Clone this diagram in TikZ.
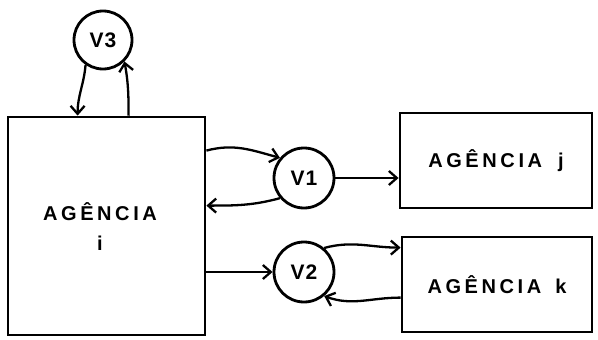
\documentclass[tikz,border=0pt]{standalone}
\usepackage{fontspec}
\newfontfamily\lett{Liberation Sans Bold}[LetterSpace=18]
\newfontfamily\lettv{Liberation Sans Bold}[LetterSpace=4]
\usetikzlibrary{arrows.meta}
\begin{document}
\begin{tikzpicture}[x=1pt,y=1pt,
  box/.style={draw,line width=2.8pt,inner sep=0pt,font=\lett\fontsize{20}{22}\selectfont},
  txt/.style={inner sep=0pt,font=\lett\fontsize{20}{22}\selectfont},
  vnode/.style={circle,draw,line width=2.8pt,minimum size=60pt,inner sep=0pt,font=\lettv\fontsize{21}{23}\selectfont},
  conn/.style={line width=2.3pt,-{Straight Barb[length=8pt,width=14pt,line width=2.3pt]}}
]
\useasboundingbox (0,0) rectangle (598,-340);
\node[box,minimum width=197pt,minimum height=218pt] (ai) at (106.5,-226) {};
\node[txt,align=center] (ait) at (100,-227) {AGÊNCIA\\[8pt]i};
\node[box,minimum width=192pt,minimum height=95pt] (aj) at (496,-160.5) {AGÊNCIA\hspace{16pt}j};
\node[box,minimum width=190pt,minimum height=95pt] (ak) at (497,-284.5) {AGÊNCIA\hspace{14pt}k};
\node[vnode] (v1) at (304,-178) {V1};
\node[vnode] (v2) at (304,-272) {V2};
\node[vnode,minimum size=58pt] (v3) at (103,-40) {V3};
% V3 loop
\draw[conn] (v3.235) to[out=-95,in=90] ([xshift=71pt]ai.north west);
\draw[conn] ([xshift=122pt]ai.north west) to[out=90,in=-80] (v3.-45);
% V1
\draw[conn] ([yshift=-35pt]ai.north east) to[out=15,in=165] (v1.140);
\draw[conn] (v1.220) to[out=195,in=0] ([yshift=-90pt]ai.north east);
\draw[conn] (v1.east) -- (v1.east -| aj.west);
% V2
\draw[conn] (v2.west -| ai.east) -- (v2.west);
\draw[conn] (v2.50) to[out=15,in=180] ([yshift=-12pt]ak.north west);
\draw[conn] ([yshift=-62pt]ak.north west) to[out=180,in=-20] (v2.-50);
\end{tikzpicture}
\end{document}
